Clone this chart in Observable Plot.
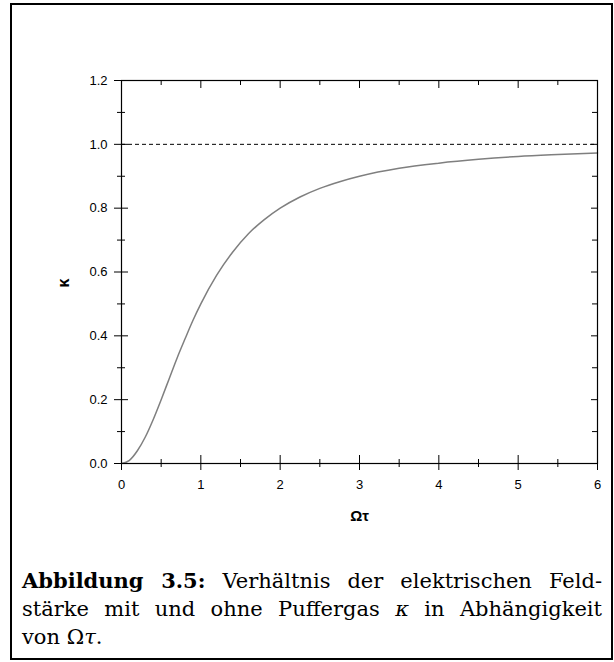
<!DOCTYPE html>
<html>
<head>
<meta charset="utf-8">
<script src="https://cdn.jsdelivr.net/npm/d3@7"></script>
<script src="https://cdn.jsdelivr.net/npm/@observablehq/plot@0.6"></script>
<style>
  html, body { margin: 0; padding: 0; background: #fff; }
  body { width: 614px; height: 662px; position: relative; overflow: hidden; }
  #border { position: absolute; left: 10px; top: 3px; width: 603px; height: 657px; border: 2px solid #000; box-sizing: border-box; }
  #chart { position: absolute; left: 0; top: 0; }
  #caption { position: absolute; left: 22px; top: 567px; width: 580px; font-family: "DejaVu Serif", serif; font-size: 21px; line-height: 28px; color: #000; }
  #caption .j { text-align: justify; text-align-last: justify; white-space: nowrap; }
  #caption .l { text-align: left; }
  #caption b { font-weight: bold; }
</style>
</head>
<body>
<div id="border"></div>
<div id="chart"></div>
<div id="caption">
  <div class="j"><b>Abbildung 3.5:</b> Verhältnis der elektrischen Feld-</div>
  <div class="j">stärke mit und ohne Puffergas <i>κ</i> in Abhängigkeit</div>
  <div class="l">von Ω<i>τ</i>.</div>
</div>
<script>
// Values
const omegaTau = [0, 0.1, 0.2, 0.3, 0.4, 0.5, 0.6, 0.7, 0.8, 0.9, 1.0, 1.2, 1.4, 1.6, 1.8, 2.0, 2.25, 2.5, 2.75, 3.0, 3.5, 4.0, 4.5, 5.0, 5.5, 6.0];
const kappa    = [0, 0.01, 0.04, 0.083, 0.138, 0.2, 0.265, 0.33, 0.39, 0.448, 0.5, 0.59, 0.662, 0.72, 0.764, 0.8, 0.835, 0.862, 0.883, 0.9, 0.925, 0.941, 0.953, 0.962, 0.968, 0.973];
const referenceLevel = [1.0];
const xMajorTicks = [0, 1, 2, 3, 4, 5, 6];
const xMinorTicks = [0.5, 1.5, 2.5, 3.5, 4.5, 5.5];
const yMajorTicks = [0, 0.2, 0.4, 0.6, 0.8, 1.0, 1.2];
const yMinorTicks = [0.1, 0.3, 0.5, 0.7, 0.9, 1.1];
const xLabel = ["Ωτ"];
const yLabel = ["κ"];

const data = omegaTau.map((x, i) => ({x, y: kappa[i]}));
const none = () => "";
const sans = "Liberation Sans, Arial, sans-serif";

const chart = Plot.plot({
  width: 614,
  height: 545,
  marginLeft: 121,
  marginRight: 17,
  marginTop: 80,
  marginBottom: 82,
  style: {fontFamily: sans, fontSize: "13px", color: "#000", background: "transparent"},
  x: {domain: [0, 6], label: null},
  y: {domain: [0, 1.2], label: null},
  marks: [
    Plot.ruleY(referenceLevel, {stroke: "#000", strokeWidth: 1, strokeDasharray: "4,3"}),
    Plot.line(data, {x: "x", y: "y", stroke: "#7f7f7f", strokeWidth: 1.5, curve: "monotone-x"}),
    Plot.frame({stroke: "#000", strokeWidth: 1.2}),
    // left axis: crossing ticks
    Plot.axisY(yMajorTicks, {anchor: "left", tickSize: 14, dx: 7, tickFormat: none, label: null}),
    Plot.axisY(yMinorTicks, {anchor: "left", tickSize: 8, dx: 4, tickFormat: none, label: null}),
    Plot.axisY(yMajorTicks, {anchor: "left", tickSize: 0, tickPadding: 14, tickFormat: d => d.toFixed(1), label: null}),
    // right axis: inward ticks
    Plot.axisY(yMajorTicks, {anchor: "right", tickSize: 7, dx: -7, tickFormat: none, label: null}),
    Plot.axisY(yMinorTicks, {anchor: "right", tickSize: 6, dx: -6, tickFormat: none, label: null}),
    // bottom axis: crossing ticks
    Plot.axisX(xMajorTicks, {anchor: "bottom", tickSize: 15, dy: -8, tickFormat: none, label: null}),
    Plot.axisX(xMinorTicks, {anchor: "bottom", tickSize: 8, dy: -4, tickFormat: none, label: null}),
    Plot.axisX(xMajorTicks, {anchor: "bottom", tickSize: 0, tickPadding: 16, tickFormat: d => String(d), label: null}),
    // top axis: inward ticks
    Plot.axisX(xMajorTicks, {anchor: "top", tickSize: 7, dy: 7, tickFormat: none, label: null}),
    Plot.axisX(xMinorTicks, {anchor: "top", tickSize: 4, dy: 4, tickFormat: none, label: null}),
    // axis titles
    Plot.text(xLabel, {text: d => d, frameAnchor: "bottom", dy: 53, lineAnchor: "middle", fontWeight: "bold", fontSize: 15, fontFamily: sans}),
    Plot.text(yLabel, {text: d => d, frameAnchor: "left", dx: -58, dy: 15.5, rotate: -90, fontWeight: "bold", fontSize: 16, fontFamily: sans})
  ]
});
document.getElementById("chart").appendChild(chart);
</script>
</body>
</html>
